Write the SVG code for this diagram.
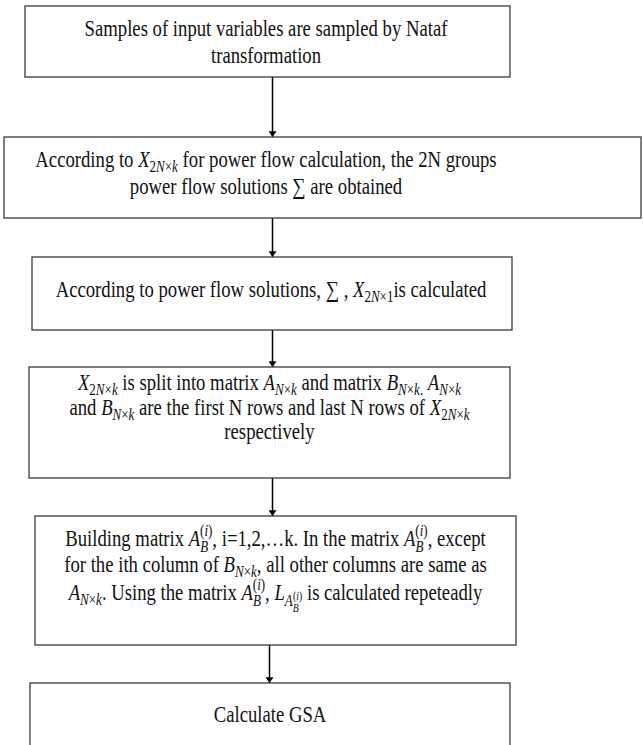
<svg xmlns="http://www.w3.org/2000/svg" width="643" height="745" viewBox="0 0 643 745">
<defs>
<marker id="ah" viewBox="0 0 8 11" refX="8" refY="5.5" markerWidth="11" markerHeight="8" markerUnits="userSpaceOnUse" orient="auto">
<path d="M0,0 L11,5.5 L0,11 Z" transform="scale(0.727 1)" fill="#000"/>
</marker>
<style>
rect.box{fill:#fff;stroke:#3a3a3a;stroke-width:1.3}
text{font-family:"Liberation Serif","Times New Roman",serif;font-size:23px;fill:#111;text-anchor:middle}
.mi{font-style:italic}
.sub{font-size:16px}
.ssub{font-size:12px}
line.c{stroke:#000;stroke-width:1.5}
</style>
</defs>
<rect width="643" height="745" fill="#fff"/>
<g id="connectors">
<line class="c" x1="272.5" y1="77" x2="272.5" y2="137" marker-end="url(#ah)"/>
<line class="c" x1="272.5" y1="218" x2="272.5" y2="257" marker-end="url(#ah)"/>
<line class="c" x1="272.5" y1="330" x2="272.5" y2="367" marker-end="url(#ah)"/>
<line class="c" x1="272.5" y1="478" x2="272.5" y2="516" marker-end="url(#ah)"/>
<line class="c" x1="269.5" y1="645" x2="269.5" y2="683" marker-end="url(#ah)"/>
</g>
<g id="n1">
<rect class="box" x="25" y="6" width="485" height="71"/>
<text transform="translate(266 0) scale(0.813 1)" x="0" y="36">Samples of input variables are sampled by Nataf</text>
<text transform="translate(266 0) scale(0.813 1)" x="0" y="63.5">transformation</text>
</g>
<g id="n2">
<rect class="box" x="4" y="137" width="637" height="81"/>
<text transform="translate(266 0) scale(0.813 1)" x="0" y="167">According to <tspan class="mi">X</tspan><tspan class="sub" dy="5">2<tspan class="mi">N</tspan>×<tspan class="mi">k</tspan></tspan><tspan dy="-5"> for power flow calculation, the 2N groups</tspan></text>
<text transform="translate(266 0) scale(0.813 1)" x="0" y="194">power flow solutions ∑ are obtained</text>
</g>
<g id="n3">
<rect class="box" x="32" y="257" width="480" height="73"/>
<text transform="translate(271 0) scale(0.813 1)" x="0" y="297">According to power flow solutions, ∑ , <tspan class="mi">X</tspan><tspan class="sub" dy="5">2<tspan class="mi">N</tspan>×1</tspan><tspan dy="-5">is calculated</tspan></text>
</g>
<g id="n4">
<rect class="box" x="29" y="367" width="481" height="111"/>
<text transform="translate(269.5 0) scale(0.813 1)" x="0" y="390"><tspan class="mi">X</tspan><tspan class="sub" dy="5">2<tspan class="mi">N</tspan>×<tspan class="mi">k</tspan></tspan><tspan dy="-5"> is split into matrix  </tspan><tspan class="mi">A</tspan><tspan class="sub mi" dy="5">N</tspan><tspan class="sub">×</tspan><tspan class="sub mi">k</tspan><tspan dy="-5"> and matrix </tspan><tspan class="mi">B</tspan><tspan class="sub mi" dy="5">N</tspan><tspan class="sub">×</tspan><tspan class="sub mi">k</tspan><tspan class="sub">.</tspan><tspan dy="-5">  </tspan><tspan class="mi">A</tspan><tspan class="sub mi" dy="5">N</tspan><tspan class="sub">×</tspan><tspan class="sub mi">k</tspan></text>
<text transform="translate(269.5 0) scale(0.813 1)" x="0" y="415">and  <tspan class="mi">B</tspan><tspan class="sub mi" dy="5">N</tspan><tspan class="sub">×</tspan><tspan class="sub mi">k</tspan><tspan dy="-5"> are the first N rows and last N rows of  </tspan><tspan class="mi">X</tspan><tspan class="sub" dy="5">2<tspan class="mi">N</tspan>×<tspan class="mi">k</tspan></tspan></text>
<text transform="translate(269.5 0) scale(0.813 1)" x="0" y="439">respectively</text>
</g>
<g id="n5">
<rect class="box" x="35" y="516" width="481" height="129"/>
<text transform="translate(275.5 0) scale(0.813 1)" x="0" y="546">Building matrix <tspan class="mi">A</tspan><tspan class="sub mi" dy="6">B</tspan><tspan class="sub" dx="-10" dy="-16">(<tspan class="mi">i</tspan>)</tspan><tspan dy="10">, i=1,2,…k. In the matrix </tspan><tspan class="mi">A</tspan><tspan class="sub mi" dy="6">B</tspan><tspan class="sub" dx="-10" dy="-16">(<tspan class="mi">i</tspan>)</tspan><tspan dy="10">, except</tspan></text>
<text transform="translate(275.5 0) scale(0.813 1)" x="0" y="572">for the ith column of  <tspan class="mi">B</tspan><tspan class="sub mi" dy="5">N</tspan><tspan class="sub">×</tspan><tspan class="sub mi">k</tspan><tspan dy="-5">, all other columns are same as</tspan></text>
<text transform="translate(275.5 0) scale(0.813 1)" x="0" y="600"><tspan class="mi">A</tspan><tspan class="sub mi" dy="5">N</tspan><tspan class="sub">×</tspan><tspan class="sub mi">k</tspan><tspan dy="-5">. Using the matrix </tspan><tspan class="mi">A</tspan><tspan class="sub mi" dy="6">B</tspan><tspan class="sub" dx="-10" dy="-16">(<tspan class="mi">i</tspan>)</tspan><tspan dy="10">, </tspan><tspan class="mi">L</tspan><tspan class="sub mi" dy="6">A</tspan><tspan class="ssub mi" dy="6">B</tspan><tspan class="ssub" dx="-7" dy="-12">(<tspan class="mi">i</tspan>)</tspan><tspan dy="0"> is calculated repeteadly</tspan></text>
</g>
<g id="n6">
<rect class="box" x="30" y="683" width="480" height="80"/>
<text transform="translate(270 0) scale(0.813 1)" x="0" y="722">Calculate GSA</text>
</g>
</svg>
